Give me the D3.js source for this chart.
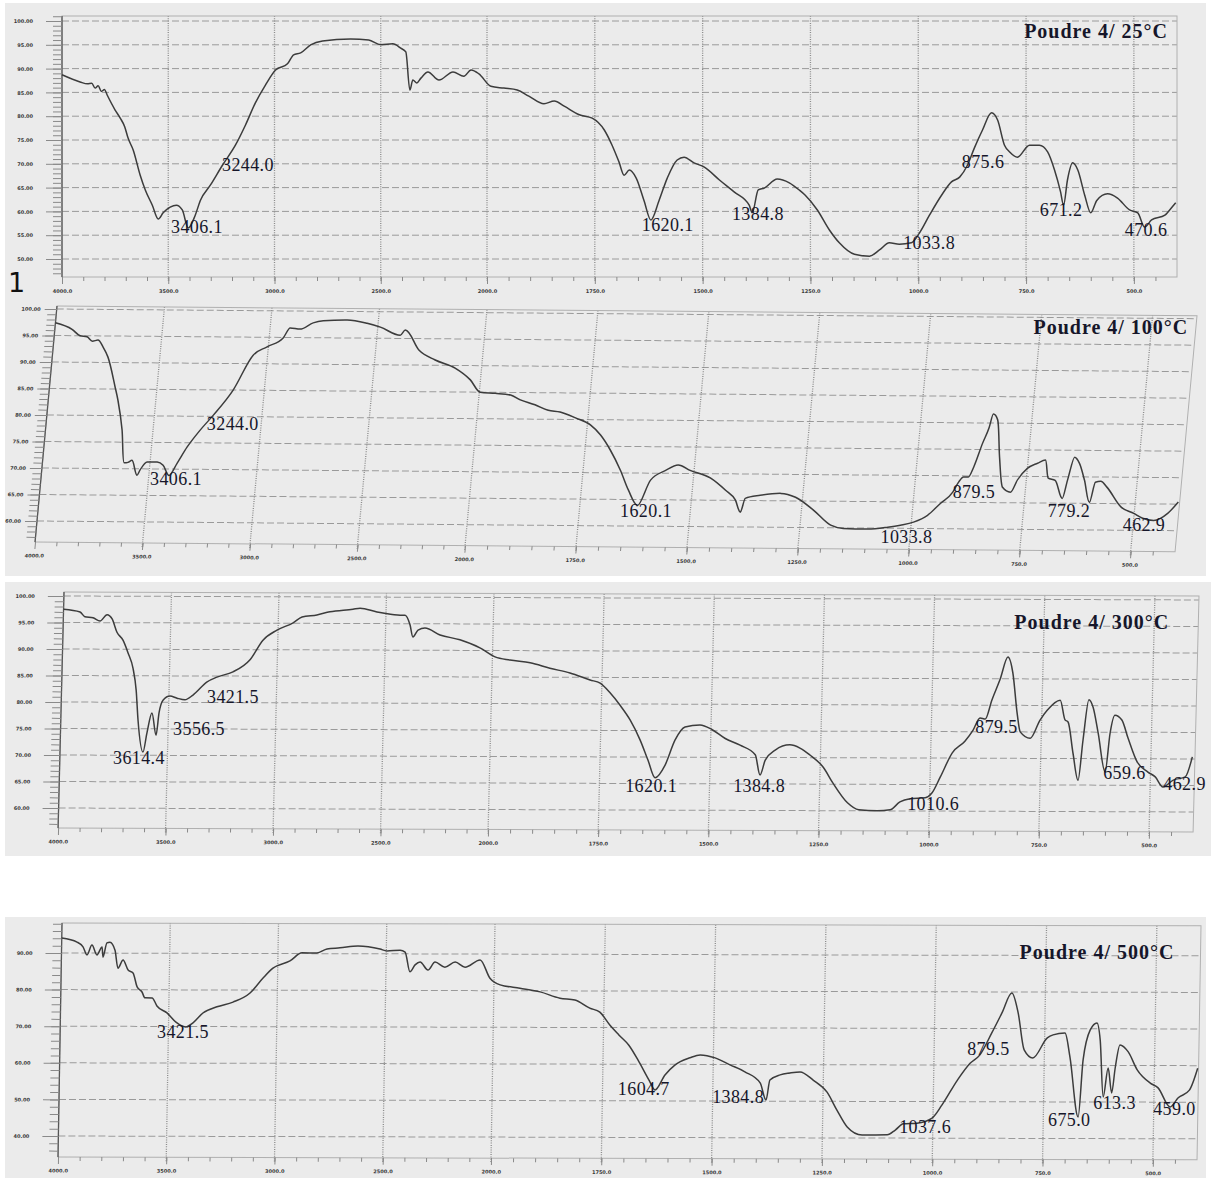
<!DOCTYPE html>
<html>
<head>
<meta charset="utf-8">
<script src="https://cdn.jsdelivr.net/npm/d3@7"></script>
<style>
  body { margin: 0; background: #fff; }
  svg { display: block; }
</style>
</head>
<body>
<div id="chart"></div>
<script>
// FTIR spectra of "Poudre 4" after heating, [wavenumber cm-1, %T]
var spec25 = [[4000,88.7],[3915,87.2],[3880,86.8],[3860,86.9],[3844,85.9],[3830,86.4],[3815,85.2],[3800,85.6],[3788,84.5],[3750,81.3],[3726,79.6],[3705,77.8],[3689,75.4],[3665,72.9],[3632,67.6],[3608,64.5],[3575,61.3],[3547,58.4],[3524,59.7],[3491,60.9],[3462,61.3],[3434,60.3],[3406,56.5],[3373,59.2],[3349,62.3],[3302,65.5],[3245,69.7],[3184,73.9],[3137,78.1],[3090,82.8],[3042,86.6],[2995,89.7],[2939,91.0],[2910,92.9],[2877,93.3],[2830,95.0],[2774,95.8],[2642,96.2],[2557,96.0],[2500,95.0],[2443,95.2],[2406,94.3],[2382,93.5],[2363,85.5],[2349,87.6],[2330,87.0],[2311,88.0],[2278,89.3],[2226,87.6],[2160,89.3],[2109,88.4],[2075,89.7],[2038,88.9],[1991,86.3],[1961,85.9],[1930,85.5],[1903,84.2],[1868,82.6],[1844,83.2],[1821,82.1],[1786,80.3],[1756,79.6],[1728,77.1],[1710,73.9],[1694,70.4],[1682,67.6],[1670,68.7],[1654,67.0],[1636,62.3],[1620,58.2],[1601,62.3],[1582,67.0],[1559,70.8],[1543,71.4],[1520,70.2],[1496,69.3],[1461,66.6],[1427,64.1],[1392,61.3],[1385,59.7],[1371,64.5],[1357,64.9],[1327,66.8],[1299,66.0],[1276,64.5],[1262,63.4],[1234,60.3],[1206,56.1],[1183,53.4],[1148,51.0],[1113,50.6],[1090,51.9],[1067,53.4],[1044,53.1],[1016,53.4],[997,55.5],[974,59.2],[946,63.4],[923,66.2],[904,67.2],[886,69.7],[870,73.3],[851,77.1],[830,80.7],[816,79.2],[800,73.9],[788,72.5],[770,71.4],[742,73.9],[719,73.9],[700,72.5],[684,68.7],[670,64.1],[663,61.3],[654,66.6],[642,70.2],[630,68.7],[614,63.4],[600,59.7],[586,62.3],[561,63.7],[538,62.8],[510,60.3],[491,59.7],[475,56.7],[459,58.2],[428,59.2],[417,60.3],[403,61.8]];

var spec100 = [[4000,97.4],[3920,96.2],[3880,95.0],[3847,94.8],[3820,94.0],[3795,94.2],[3768,92.9],[3741,91.0],[3695,85.4],[3676,82.9],[3644,77.3],[3620,71.1],[3602,71.2],[3585,71.6],[3555,68.8],[3543,69.8],[3514,71.3],[3467,71.3],[3438,70.7],[3406,68.8],[3374,71.1],[3334,74.2],[3281,77.4],[3227,80.2],[3145,85.0],[3067,91.6],[3006,93.2],[2935,94.9],[2907,96.8],[2860,96.6],[2802,97.8],[2756,98.2],[2645,98.4],[2551,97.8],[2488,97.1],[2392,95.6],[2371,96.6],[2298,92.8],[2219,91.0],[2123,89.5],[2047,87.3],[1998,85.0],[1964,84.8],[1929,84.5],[1906,83.6],[1872,82.7],[1841,81.7],[1814,81.4],[1778,80.3],[1743,79.0],[1718,77.1],[1693,74.3],[1666,70.5],[1644,66.8],[1620,63.9],[1596,68.7],[1565,70.5],[1537,71.6],[1509,70.6],[1462,69.2],[1425,66.9],[1401,65.1],[1387,62.8],[1379,65.4],[1346,66.0],[1300,66.4],[1266,65.7],[1223,63.3],[1181,60.5],[1152,59.9],[1097,59.8],[1052,60.2],[1024,60.6],[995,61.2],[965,62.5],[938,64.8],[913,66.9],[902,68.8],[892,69.8],[881,69.8],[871,71.7],[856,76.2],[845,79.0],[838,81.7],[827,80.6],[815,73.6],[802,67.9],[783,67.0],[770,69.3],[750,71.5],[728,72.5],[711,73.1],[701,69.7],[685,69.3],[665,65.9],[657,69.4],[646,73.7],[634,72.6],[619,69.4],[603,65.2],[594,69.0],[582,69.2],[567,68.1],[530,64.3],[501,63.2],[480,62.3],[455,61.9],[424,63.3],[403,65.4]];

var spec300 = [[4000,97.5],[3923,97.0],[3900,96.1],[3862,95.9],[3829,95.3],[3797,96.5],[3773,95.7],[3749,93.2],[3720,91.7],[3695,89.3],[3670,86.4],[3653,82.3],[3641,76.7],[3614,70.6],[3598,74.2],[3577,78.0],[3555,73.8],[3544,78.0],[3527,80.4],[3495,81.2],[3462,80.8],[3425,80.5],[3388,81.4],[3324,83.9],[3279,84.8],[3205,85.8],[3127,88.1],[3069,91.8],[3005,93.7],[2931,95.1],[2890,96.2],[2821,96.6],[2761,97.2],[2654,97.7],[2621,97.9],[2542,97.2],[2514,97.0],[2434,96.6],[2411,96.6],[2387,94.8],[2372,92.5],[2349,93.8],[2317,94.2],[2246,92.9],[2153,92.0],[2059,90.5],[1994,88.8],[1960,88.2],[1914,87.7],[1869,86.7],[1823,85.8],[1777,84.5],[1754,83.9],[1731,82.1],[1708,79.8],[1684,77.0],[1660,73.2],[1641,69.4],[1624,66.1],[1602,68.5],[1581,73.2],[1559,75.7],[1525,76.1],[1497,75.2],[1468,73.6],[1433,72.3],[1398,70.5],[1386,66.7],[1375,69.5],[1353,71.4],[1320,72.4],[1297,71.8],[1274,70.5],[1243,68.2],[1220,65.2],[1186,61.5],[1160,60.2],[1118,60.0],[1089,60.2],[1067,61.7],[1044,62.3],[1010,62.5],[995,63.4],[977,66.4],[951,71.0],[923,73.2],[905,75.3],[890,77.6],[878,77.4],[864,81.0],[847,84.8],[830,89.1],[818,86.1],[806,78.5],[798,75.0],[775,73.8],[754,77.2],[738,79.1],[709,81.0],[697,77.3],[690,76.9],[677,71.0],[664,65.9],[655,73.5],[644,81.1],[634,79.7],[621,74.8],[603,67.5],[594,74.8],[584,78.2],[568,77.3],[553,73.9],[531,69.4],[506,67.5],[489,66.6],[471,64.7],[448,66.0],[421,66.6],[406,70.4]];

var spec500 = [[4000,94.1],[3929,93.0],[3901,91.7],[3882,89.5],[3860,92.2],[3836,89.5],[3813,91.7],[3808,88.9],[3791,92.8],[3777,93.0],[3753,90.8],[3738,85.9],[3715,88.1],[3691,85.4],[3668,84.6],[3648,80.8],[3625,79.4],[3611,77.8],[3578,77.8],[3555,75.6],[3508,73.7],[3466,71.2],[3421,69.9],[3387,71.0],[3342,73.7],[3278,75.4],[3204,76.7],[3126,79.2],[3067,83.3],[3022,86.0],[2944,88.0],[2889,90.2],[2820,90.2],[2774,91.3],[2714,91.6],[2631,92.1],[2529,91.3],[2497,90.8],[2436,91.0],[2413,90.5],[2389,85.1],[2366,87.0],[2343,87.8],[2306,85.6],[2274,87.8],[2228,86.4],[2181,87.8],[2135,86.4],[2066,88.4],[2019,83.4],[1986,81.6],[1941,80.7],[1895,79.7],[1850,78.0],[1816,77.5],[1782,75.3],[1759,74.2],[1736,70.7],[1715,68.0],[1692,65.2],[1668,60.6],[1645,55.7],[1631,53.0],[1609,57.1],[1587,59.8],[1553,61.8],[1530,62.6],[1496,61.8],[1462,59.9],[1428,58.0],[1393,55.0],[1379,50.3],[1371,55.8],[1348,57.2],[1326,57.7],[1303,58.0],[1273,55.8],[1241,52.5],[1218,47.6],[1194,43.0],[1160,40.8],[1103,40.9],[1085,42.2],[1067,43.9],[1036,44.1],[1002,45.5],[980,49.1],[946,55.9],[918,60.5],[896,62.8],[870,68.8],[848,74.2],[826,79.7],[811,74.3],[796,64.2],[776,62.0],[744,67.5],[731,68.3],[704,68.8],[692,62.3],[671,45.9],[662,61.5],[647,69.7],[632,71.6],[624,66.9],[615,51.4],[605,59.3],[596,52.5],[589,59.3],[579,65.6],[560,63.7],[539,58.8],[509,55.2],[491,53.9],[463,48.7],[445,51.2],[420,53.3],[402,59.3]];

// peak labels: [text, wavenumber, %T] of the label's left baseline
var peaks25 = [["3406.1",3487,55.5],["3244.0",3247,68.5],["1620.1",1641,55.9],["1384.8",1432,58.2],["1033.8",1035,52.1],["875.6",899,69.1],["671.2",718,59.0],["470.6",521,54.8]];
var peaks100 = [["3244.0",3250,77.4],["3406.1",3490,66.9],["1620.1",1657,61.7],["1033.8",1065,57.2],["879.5",912,65.8],["779.2",694,62.3],["462.9",522,59.8]];
var peaks300 = [["3421.5",3322,79.9],["3556.5",3476,73.8],["3614.4",3752,68.3],["1620.1",1691,63.4],["1384.8",1446,63.5],["1010.6",1050,60.2],["879.5",900,74.8],["659.6",607,66.2],["462.9",470,64.1]];
var peaks500 = [["3421.5",3552,66.8],["1604.7",1715,51.6],["1384.8",1501,49.5],["1037.6",1076,41.4],["879.5",925,62.8],["675.0",739,43.4],["613.3",637,48.1],["459.0",501,46.5]];

var xTicks = [4000, 3500, 3000, 2500, 2000, 1750, 1500, 1250, 1000, 750, 500];
var yTicksA = [100, 95, 90, 85, 80, 75, 70, 65, 60, 55, 50];
var yTicksB = [100, 95, 90, 85, 80, 75, 70, 65, 60];
var yTicksC = [90, 80, 70, 60, 50, 40];
var titles = ["Poudre 4/ 25°C", "Poudre 4/ 100°C", "Poudre 4/ 300°C", "Poudre 4/ 500°C"];

var W = 1211, H = 1178;
var svg = d3.select("#chart").append("svg").attr("width", W).attr("height", H);

// grey scan backgrounds
var bgBoxes = [[5, 3, 1201, 573], [5, 582, 1206, 274], [5, 917, 1201, 261]];
svg.selectAll(".bg").data(bgBoxes).enter().append("rect")
    .attr("x", function (d) { return d[0]; })
    .attr("y", function (d) { return d[1]; })
    .attr("width", function (d) { return d[2]; })
    .attr("height", function (d) { return d[3]; })
    .attr("fill", "#ebebeb");

// layout of each scanned panel (slightly skewed in the scan)
var panels = [
    { title: titles[0], data: spec25, peaks: peaks25, yTicks: yTicksA,
      left: 62, mid: 487, right: 1177, top: 16, bottom: 277, yFirst: 21, yLast: 259,
      shear: 0, rot: 0, tdx: -9, tdy: 22, tick: 16, pad: 13 },
    { title: titles[1], data: spec100, peaks: peaks100, yTicks: yTicksB,
      left: 57, mid: 487, right: 1197, top: 306, bottom: 542, yFirst: 309, yLast: 521,
      shear: -0.093, rot: 0.0085, tdx: -7, tdy: 18, tick: 12, pad: 4 },
    { title: titles[2], data: spec300, peaks: peaks300, yTicks: yTicksB,
      left: 64, mid: 494, right: 1199, top: 592, bottom: 828, yFirst: 596, yLast: 808,
      shear: -0.025, rot: 0.0035, tdx: -29, tdy: 33, tick: 16, pad: 13 },
    { title: titles[3], data: spec500, peaks: peaks500, yTicks: yTicksC,
      left: 62, mid: 495, right: 1201, top: 923, bottom: 1157, yFirst: 953, yLast: 1136,
      shear: -0.017, rot: 0.0025, tdx: -26, tdy: 33, tick: 16, pad: 13 }
];

panels.forEach(function (p) {
    var x = d3.scaleLinear().domain([4000, 2000, 400]).range([p.left, p.mid, p.right]);
    var y = d3.scaleLinear()
        .domain([p.yTicks[0], p.yTicks[p.yTicks.length - 1]])
        .range([p.yFirst, p.yLast]);

    var m = [1, p.rot, p.shear, 1, -p.shear * p.top, -p.rot * p.left];
    var warp = function (px, py) {
        return [px + p.shear * (py - p.top), py + p.rot * (px - p.left)];
    };
    var g = svg.append("g").attr("transform", "matrix(" + m.join(",") + ")");

    // horizontal dashed grid
    g.selectAll(".hgrid").data(p.yTicks).enter().append("line")
        .attr("x1", p.left).attr("x2", p.right)
        .attr("y1", function (d) { return y(d); })
        .attr("y2", function (d) { return y(d); })
        .attr("stroke", "#9a9a9a")
        .attr("stroke-width", 1)
        .attr("stroke-dasharray", "7,3");

    // vertical dotted grid
    g.selectAll(".vgrid").data(xTicks.slice(1)).enter().append("line")
        .attr("x1", function (d) { return x(d); })
        .attr("x2", function (d) { return x(d); })
        .attr("y1", p.top).attr("y2", p.bottom + 4)
        .attr("stroke", "#8c8c8c")
        .attr("stroke-width", 1.3)
        .attr("stroke-dasharray", "1,1.3");

    // frame
    g.append("rect")
        .attr("x", p.left).attr("y", p.top)
        .attr("width", p.right - p.left).attr("height", p.bottom - p.top)
        .attr("fill", "none")
        .attr("stroke", "#b0b0b0");
    g.append("line")
        .attr("x1", p.left).attr("x2", p.left).attr("y1", p.top).attr("y2", p.bottom)
        .attr("stroke", "#555").attr("stroke-width", 1.3);

    // y axis, major + minor ticks
    var step = (p.yTicks[0] - p.yTicks[1]) / 5;
    var lo = y.invert(p.bottom), hi = y.invert(p.top);
    var minorY = d3.range(Math.ceil(lo / step) * step, hi, step);
    var yMinor = g.append("g").attr("transform", "translate(" + p.left + ",0)")
        .call(d3.axisLeft(y).tickValues(minorY).tickSize(9).tickFormat(""));
    yMinor.select(".domain").remove();
    var yMajor = g.append("g").attr("transform", "translate(" + p.left + ",0)")
        .call(d3.axisLeft(y).tickValues(p.yTicks).tickSize(p.tick).tickPadding(p.pad)
            .tickFormat(d3.format(".2f")));
    yMajor.select(".domain").remove();
    g.selectAll(".tick line").attr("stroke", "#8a8a8a");
    yMajor.selectAll("text")
        .attr("font-size", 5).attr("font-weight", "bold")
        .attr("font-family", "DejaVu Sans").attr("fill", "#3a3a3a");

    // x axis, major + minor ticks
    var minorX = d3.range(3900, 2000, -100).concat(d3.range(1950, 400, -50));
    var xMinor = g.append("g").attr("transform", "translate(0," + p.bottom + ")")
        .call(d3.axisBottom(x).tickValues(minorX).tickSize(4).tickFormat(""));
    xMinor.select(".domain").remove();
    var xMajor = g.append("g").attr("transform", "translate(0," + p.bottom + ")")
        .call(d3.axisBottom(x).tickValues(xTicks).tickSize(7).tickPadding(5)
            .tickFormat(d3.format(".1f")));
    xMajor.select(".domain").remove();
    g.selectAll(".tick line").attr("stroke", "#8a8a8a");
    xMajor.selectAll("text")
        .attr("font-size", 5).attr("font-weight", "bold")
        .attr("font-family", "DejaVu Sans").attr("fill", "#3a3a3a");

    // spectrum
    var line = d3.line()
        .x(function (d) { return x(d[0]); })
        .y(function (d) { return y(d[1]); })
        .curve(d3.curveMonotoneX);
    g.append("path")
        .datum(p.data)
        .attr("d", line)
        .attr("fill", "none")
        .attr("stroke", "#3c3c3c")
        .attr("stroke-width", 1.5)
        .attr("stroke-linejoin", "round");

    // peak labels (upright, placed on the skewed panel)
    p.peaks.forEach(function (k) {
        var pt = warp(x(k[1]), y(k[2]));
        svg.append("text")
            .attr("x", pt[0]).attr("y", pt[1])
            .attr("font-family", "Liberation Serif, serif")
            .attr("font-size", 18)
            .attr("letter-spacing", 0.4)
            .attr("fill", "#16162a")
            .text(k[0]);
    });

    var tp = warp(p.right + p.tdx, p.top + p.tdy);
    svg.append("text")
        .attr("x", tp[0]).attr("y", tp[1])
        .attr("text-anchor", "end")
        .attr("font-family", "Liberation Serif, serif")
        .attr("font-weight", "bold")
        .attr("font-size", 20)
        .attr("letter-spacing", 1)
        .attr("fill", "#16162a")
        .text(p.title);
});

// stray figure mark in the scan
svg.append("text")
    .attr("x", 8).attr("y", 292)
    .attr("font-family", "DejaVu Sans")
    .attr("font-size", 27)
    .attr("fill", "#111")
    .text("1");
</script>
</body>
</html>
